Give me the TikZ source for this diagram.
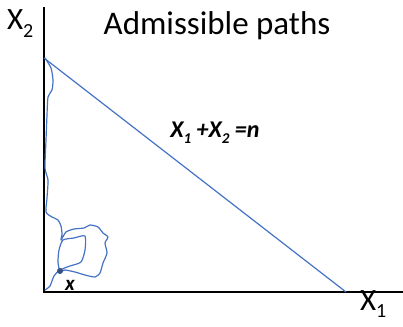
\documentclass[tikz,border=0pt]{standalone}
\usepackage{fontspec}
\setmainfont{Carlito}
\definecolor{pathblue}{RGB}{68,114,196}
\definecolor{dotblue}{RGB}{55,80,130}
\begin{document}
\begin{tikzpicture}[x=1pt,y=-1pt,
  lbl/.style={inner sep=0pt,outer sep=0pt,anchor=base,text=black},
  axis/.style={line width=1.6pt,black},
  walk/.style={pathblue,line width=1.2pt,line join=round,line cap=round}]
\useasboundingbox (0,0) rectangle (403,326);
\coordinate (O) at (44,292);
\coordinate (top) at (44,7);
\coordinate (right) at (403,292);
\coordinate (A) at (44,58);
\coordinate (B) at (346,292);
\draw[axis] (top) -- (O) -- (right);
\draw[pathblue,line width=1.2pt] (A) -- (B);
\draw[walk] plot[smooth,tension=0.4] coordinates {
 (45,58) (51,68) (53,80) (52,90) (48,97) (47,115) (46,140) (45,168) (48,180) (47,198)
 (46,212) (52,217) (58,220) (61,226) (62,234) (61,240) (66,232) (74,229) (84,228)
 (90,225) (98,227) (103,233) (108,237) (105,243) (107,253) (103,263) (100,273)
 (95,277) (85,275) (75,272) (65,270) (60,271) (58,262) (59,250) (63,240) (74,238)
 (85,236) (85,250) (81,262) (70,266) (60,270) (54,276) (50,286) (45,290)};
\fill[dotblue] (60,271) circle (3);
\node[lbl] (title) at (217,35) {\fontsize{33}{40}\selectfont Admissible paths};
\node[lbl,anchor=base west] (x2) at (7,30) {\fontsize{31}{36}\selectfont X\raisebox{-0.25em}{\fontsize{20}{20}\selectfont 2}};
\node[lbl,anchor=base west] (x1) at (360,310) {\fontsize{31}{36}\selectfont X\raisebox{-0.25em}{\fontsize{20}{20}\selectfont 1}};
\node[lbl] (eq) at (215,137) {\fontsize{24}{28}\selectfont\bfseries\itshape X\raisebox{-0.25em}{\fontsize{15}{15}\selectfont 1} +X\raisebox{-0.25em}{\fontsize{15}{15}\selectfont 2} =n};
\node[lbl] (xs) at (70,290) {\fontsize{21}{24}\selectfont\bfseries\itshape x};
\end{tikzpicture}
\end{document}
